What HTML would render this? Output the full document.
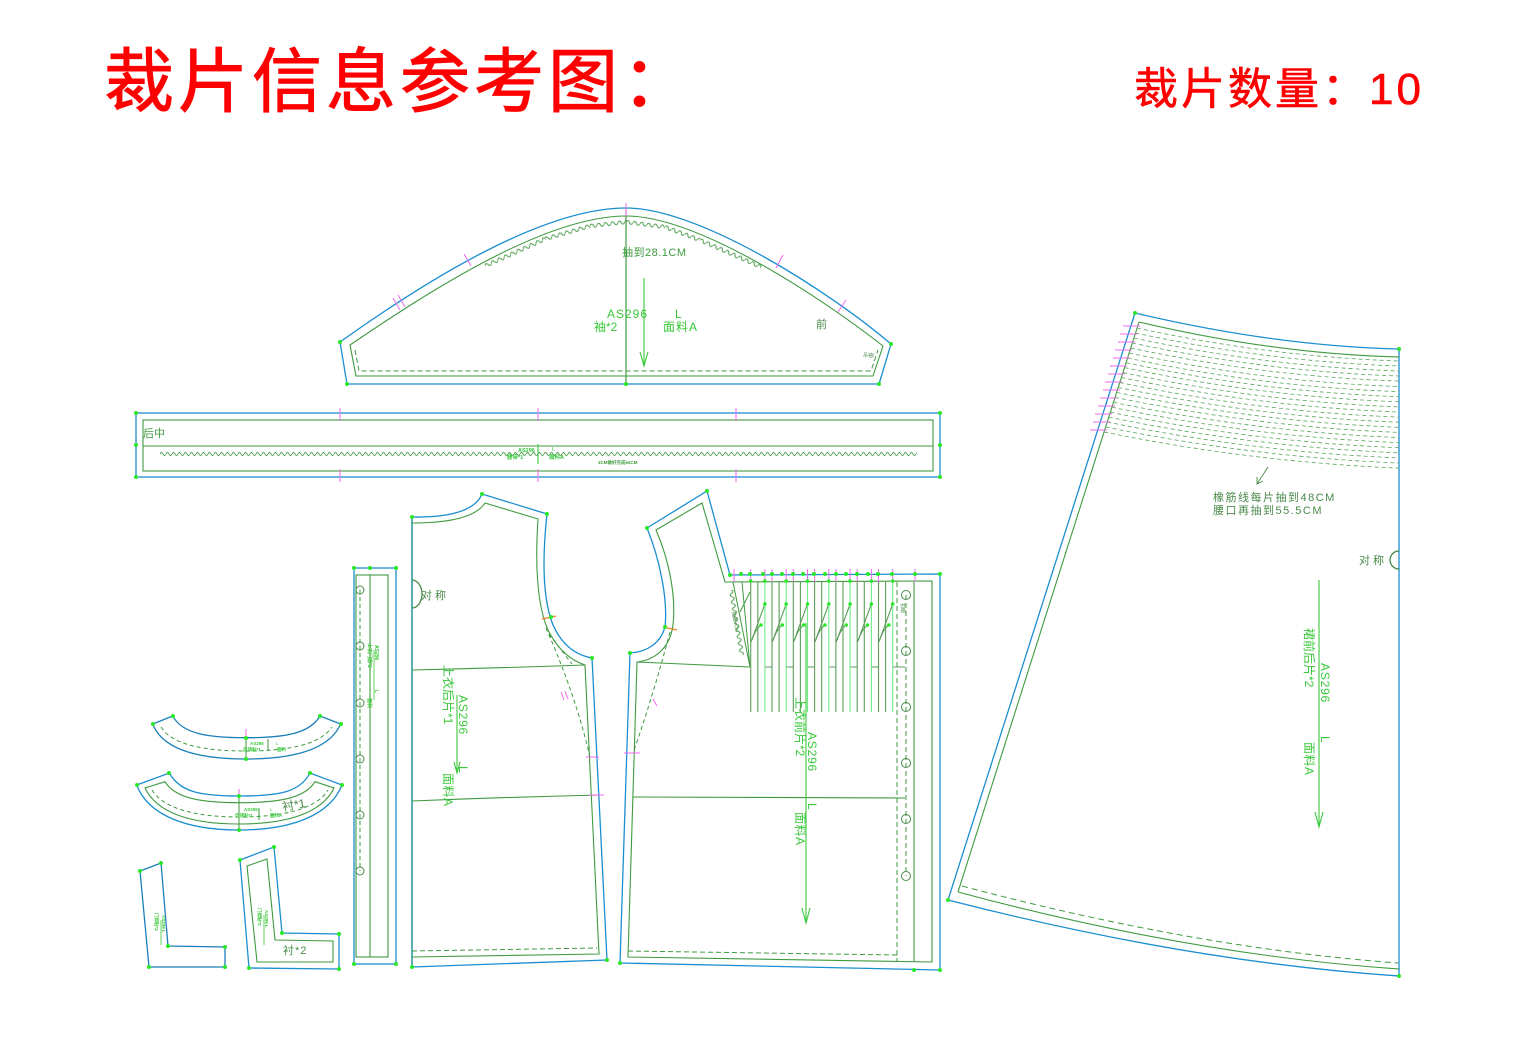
<!DOCTYPE html>
<html><head><meta charset="utf-8"><style>
html,body{margin:0;padding:0;background:#fff;}
svg{display:block;}
text{font-family:"Liberation Sans","Noto Sans CJK SC",sans-serif;}
</style></head><body>
<svg width="1526" height="1058" viewBox="0 0 1526 1058" xmlns="http://www.w3.org/2000/svg">
<defs>
<pattern id="wv" patternUnits="userSpaceOnUse" x="0" y="-3" width="6" height="6"><path d="M0,3 Q1.5,0 3,3 T6,3" fill="none" stroke="#4e9e4e" stroke-width="0.9"/></pattern>
<pattern id="wv2" patternUnits="userSpaceOnUse" x="0" y="-4" width="7" height="8"><path d="M0,4 Q1.75,0.5 3.5,4 T7,4" fill="none" stroke="#4e9e4e" stroke-width="1"/></pattern>
</defs>
<rect width="1526" height="1058" fill="#fff"/>

<!-- Titles -->
<text x="104" y="106" font-size="70" fill="#ff0000" letter-spacing="4" stroke="#ff0000" stroke-width="1">裁片信息参考图：</text>
<text x="1134" y="104" font-size="44" fill="#ff0000" letter-spacing="3" stroke="#ff0000" stroke-width="0.6">裁片数量：10</text>

<!-- ============ SLEEVE ============ -->
<g fill="none">
<path d="M347,384 L340,342 C420,285 540,208 626,208 C700,208 830,292 891,344 L879,384 Z" stroke="#1a8ed0" stroke-width="1.3"/>
<path d="M356,376 L350,345 C428,292 545,216 626,216 C698,216 822,298 883,346 L873,376 Z" stroke="#3f9a3f" stroke-width="1.1"/>
<path d="M355,350 L359,371 L871,371 L878,350" stroke="#3f9a3f" stroke-width="1" stroke-dasharray="5,3"/>
<path d="M626,208 L626,384" stroke="#3f9a3f" stroke-width="1.2"/>
<path d="M644,278 L644,365 M640,352 L644,366 L648,352" stroke="#3cc83c" stroke-width="1.1"/>
<path d="M393,298 L400,310 M398,295 L405,307 M464,254 L471,266 M626,203 L626,216 M783,255 L776,268 M846,300 L838,312" stroke="#f06af0" stroke-width="1"/>
</g>
<rect x="0" y="-4" width="66" height="8" fill="url(#wv2)" transform="translate(485,266) rotate(-24.2)"/>
<rect x="0" y="-4" width="47" height="8" fill="url(#wv2)" transform="translate(545,239) rotate(-16.1)"/>
<rect x="0" y="-4" width="36" height="8" fill="url(#wv2)" transform="translate(590,226) rotate(-6.3)"/>
<rect x="0" y="-4" width="39" height="8" fill="url(#wv2)" transform="translate(626,222) rotate(7.3)"/>
<rect x="0" y="-4" width="37" height="8" fill="url(#wv2)" transform="translate(665,227) rotate(20.4)"/>
<rect x="0" y="-4" width="67" height="8" fill="url(#wv2)" transform="translate(700,240) rotate(23.9)"/>
<text x="622" y="256" font-size="11" fill="#3f9a3f" letter-spacing="0.5">抽到28.1CM</text>
<text x="607" y="318" font-size="12" fill="#38c838" letter-spacing="1">AS296</text>
<text x="675" y="318" font-size="12" fill="#38c838">L</text>
<text x="594" y="331" font-size="12" fill="#38c838">袖*2</text>
<text x="663" y="331" font-size="12" fill="#38c838" letter-spacing="1">面料A</text>
<text x="816" y="328" font-size="11" fill="#4a8a4a">前</text>
<text x="863" y="357" font-size="5" fill="#4a8a4a">吊袖/</text>
<g fill="#28e828"><circle cx="340" cy="342" r="2"/><circle cx="347" cy="384" r="2"/><circle cx="626" cy="384" r="2"/><circle cx="879" cy="384" r="2"/><circle cx="891" cy="344" r="2"/></g>

<!-- ============ BAND ============ -->
<g fill="none">
<rect x="136" y="413" width="804" height="64" stroke="#1a8ed0" stroke-width="1.3"/>
<rect x="143" y="420" width="790" height="51" stroke="#3f9a3f" stroke-width="1.1"/>
<path d="M143,446 L933,446" stroke="#3f9a3f" stroke-width="1.1"/>
<path d="M538,444 L538,464" stroke="#3cc83c" stroke-width="1.1"/>
<path d="M340,408 L340,421 M538,408 L538,421 M736,408 L736,421 M340,469 L340,482 M538,469 L538,482 M736,469 L736,482" stroke="#f06af0" stroke-width="1"/>
</g>
<rect x="0" y="-3" width="757" height="6" fill="url(#wv)" transform="translate(160,454)"/>
<text x="143" y="437" font-size="11" fill="#3f9a3f">后中</text>
<text x="518" y="452" font-size="5.5" fill="#38c838" font-weight="bold">AS296</text>
<text x="552" y="451" font-size="5.5" fill="#38c838">L</text>
<text x="507" y="459" font-size="5.5" fill="#38c838" font-weight="bold">腰带*1</text>
<text x="549" y="459" font-size="5.5" fill="#38c838" font-weight="bold">面料A</text>
<text x="598" y="464" font-size="4.5" fill="#3f9a3f" font-weight="bold">3CM做好完成64CM</text>
<g fill="#28e828"><circle cx="136" cy="413" r="2"/><circle cx="136" cy="445" r="2"/><circle cx="136" cy="477" r="2"/><circle cx="940" cy="413" r="2"/><circle cx="940" cy="445" r="2"/><circle cx="940" cy="477" r="2"/></g>

<!-- ============ SKIRT ============ -->
<g fill="none">
<path d="M1135,313 Q1275,346 1399,349 L1399,976 M1399,976 Q1190,962 948,900 L1135,313" stroke="#1a8ed0" stroke-width="1.3"/>
<path d="M1139,322 Q1275,354 1399,357 M958,892 Q1192,955 1399,969 M1139,322 L958,892" stroke="#3f9a3f" stroke-width="1.1"/>
<path d="M962,886 Q1195,948 1398,963" stroke="#3f9a3f" stroke-width="1" stroke-dasharray="6,4"/>
<g stroke="#5aa65a" stroke-width="0.8" stroke-dasharray="4,3">
<path d="M1137,328 Q1268,356.5 1399,361"/>
<path d="M1135.5,333 Q1267,361.5 1399,366"/>
<path d="M1134,338 Q1266,366.5 1399,371"/>
<path d="M1132.4,343 Q1266,371.5 1399,376"/>
<path d="M1130.8,348 Q1265,376.5 1399,381"/>
<path d="M1129.2,353 Q1264,382 1399,386.5"/>
<path d="M1127.7,358 Q1263,387 1399,391.6"/>
<path d="M1126.1,362.7 Q1262,391.7 1399,396.7"/>
<path d="M1124.5,367.6 Q1262,396.7 1399,401.8"/>
<path d="M1123,372.6 Q1261,401.7 1399,406.9"/>
<path d="M1121.4,377.5 Q1260,406.7 1399,412"/>
<path d="M1119.8,382.5 Q1259,411.8 1399,417.1"/>
<path d="M1118.2,387.4 Q1258,416.8 1399,422.2"/>
<path d="M1116.7,392.4 Q1258,421.8 1399,427.3"/>
<path d="M1115.1,397.3 Q1257,426.8 1399,432.4"/>
<path d="M1113.5,402.3 Q1256,431.9 1399,437.5"/>
<path d="M1111.9,407.2 Q1255,436.9 1399,442.6"/>
<path d="M1110.4,412.2 Q1254,441.9 1399,447.7"/>
<path d="M1108.8,417.1 Q1254,447 1399,452.8"/>
<path d="M1107.2,422 Q1253,452 1399,457.9"/>
<path d="M1105.7,427 Q1252,457 1399,463"/>
<path d="M1104.1,432 Q1251,462 1399,468.1"/>
</g>
<path d="M1123,326 L1140,326 M1120,334 L1137,334 M1118,342 L1135,342 M1115,350 L1132,350 M1113,358 L1130,358 M1110,366 L1127,366 M1108,374 L1125,374 M1105,382 L1122,382 M1103,390 L1120,390 M1100,398 L1117,398 M1098,406 L1115,406 M1095,414 L1112,414 M1093,422 L1110,422 M1090,430 L1107,430" stroke="#f06af0" stroke-width="0.9"/>
<path d="M1268,467 L1257,484 M1257,477 L1257,484 L1263,481" stroke="#4a8a4a" stroke-width="0.9"/>
<path d="M1399,551 A9,9 0 0,0 1399,569" stroke="#4a8a4a" stroke-width="1.3"/>
<path d="M1319,580 L1319,826 M1315,812 L1319,827 L1323,812" stroke="#3cc83c" stroke-width="1.1"/>
</g>
<text x="1213" y="501" font-size="11" fill="#4a8a4a" letter-spacing="1.5">橡筋线每片抽到48CM</text>
<text x="1213" y="514" font-size="11" fill="#4a8a4a" letter-spacing="1.5">腰口再抽到55.5CM</text>
<text x="1359" y="564" font-size="11" fill="#4a8a4a" letter-spacing="3">对称</text>
<g transform="translate(1319,0) rotate(90)" font-size="12" fill="#38c838">
<text x="663" y="-2" letter-spacing="0.8">AS296</text>
<text x="736" y="-2">L</text>
<text x="628" y="14">裙前后片*2</text>
<text x="742" y="14" letter-spacing="0.5">面料A</text>
</g>
<g fill="#28e828"><circle cx="1135" cy="313" r="2"/><circle cx="1399" cy="349" r="2"/><circle cx="1399" cy="976" r="2"/><circle cx="948" cy="900" r="2"/></g>

<!-- ============ BACK BODICE ============ -->
<g fill="none">
<path d="M412,517 Q472,518 482,494 L547,514 C542,560 543,600 553,625 C562,645 575,655 592,658 L607,960 L412,967" stroke="#1a8ed0" stroke-width="1.3"/>
<path d="M412,517 L412,967" stroke="#2f9aa0" stroke-width="1.6"/>
<path d="M412,523 Q472,523 485,503 L538,519 C535,565 537,605 548,630 C557,648 570,660 585,665 L599,954 L412,957" stroke="#3f9a3f" stroke-width="1.1"/>
<path d="M412,670 Q500,668 585,665 M412,801 Q510,797 602,795" stroke="#3f9a3f" stroke-width="1.1"/>
<path d="M412,951 L597,948" stroke="#3f9a3f" stroke-width="1" stroke-dasharray="5,3"/>
<path d="M546,628 C560,660 578,705 590,757 M549,634 L572,664" stroke="#3f9a3f" stroke-width="1" stroke-dasharray="4,3"/>
<path d="M561,692 L564,700 M565,691 L568,699 M586,757 L599,757 M589,795 L604,795" stroke="#f06af0" stroke-width="1"/>
<path d="M542,619 L556,616" stroke="#f08020" stroke-width="1.2"/>
<path d="M412,580 A10,14 0 0,1 412,608" stroke="#4a8a4a" stroke-width="1.3"/>
<path d="M457,695 L457,772 M454,762 L457,773 L460,762" stroke="#3cc83c" stroke-width="1.1"/>
</g>
<text x="421" y="599" font-size="11" fill="#4a8a4a" letter-spacing="3">对称</text>
<g transform="translate(457,0) rotate(90)" font-size="12" fill="#38c838">
<text x="695" y="-2" letter-spacing="0.8">AS296</text>
<text x="766" y="-2">L</text>
<text x="665" y="13">上衣后片*1</text>
<text x="773" y="13" letter-spacing="0.5">面料A</text>
</g>
<g fill="#28e828"><circle cx="412" cy="517" r="2"/><circle cx="482" cy="494" r="2"/><circle cx="547" cy="514" r="2"/><circle cx="592" cy="658" r="2"/><circle cx="607" cy="960" r="2"/><circle cx="412" cy="967" r="2"/><circle cx="551" cy="617" r="2"/></g>

<!-- ============ FRONT BODICE ============ -->
<g fill="none">
<path d="M630,653 C645,652 660,645 665,627 C668,600 660,560 647,528 L707,491 L730,575 L940,574 L940,970 L620,963 Z" stroke="#1a8ed0" stroke-width="1.3"/>
<path d="M637,662 C655,660 670,648 673,625 C676,598 670,562 656,530 L702,503 L725,582 L932,581 L932,962 L628,957 Z" stroke="#3f9a3f" stroke-width="1.1"/>
<path d="M637,662 L750,667 M633,797 L905,798 M914,582 L914,962" stroke="#3f9a3f" stroke-width="1.1"/>
<path d="M742,582 L750,667 M733,582 L750,667 M750,592 L740,612" stroke="#3f9a3f" stroke-width="1"/>
<path d="M897,582 L897,962 M628,951 L897,955 M906,595 L906,876" stroke="#3f9a3f" stroke-width="1" stroke-dasharray="5,3"/>
<path d="M670,632 C660,670 645,720 633,753" stroke="#3f9a3f" stroke-width="1" stroke-dasharray="4,3"/>
<path d="M653,699 L657,706 M624,753 L640,753" stroke="#f06af0" stroke-width="1"/>
<path d="M663,627 L677,630" stroke="#f08020" stroke-width="1.2"/>
<g stroke="#5a9e5a" stroke-width="1.1">
<path d="M750.7,582 V712 M757.8,582 V712 M772,582 V712 M779.1,582 V712 M793.3,582 V712 M800.4,582 V712 M814.6,582 V712 M821.7,582 V712 M835.9,582 V712 M843,582 V712 M857.2,582 V712 M864.3,582 V712 M878.5,582 V712 M885.6,582 V712"/>
<path d="M764.9,667 H772 M786.2,667 H793.3 M807.5,667 H814.6 M828.8,667 H835.9 M850.1,667 H857.2 M871.4,667 H878.5 M892.7,667 H905"/>
<path d="M764.9,604 L751,642 M761,625 Q755,630 752,640 M786.2,604 L772.3,642 M782.3,625 Q776.3,630 773.3,640 M807.5,604 L793.6,642 M803.6,625 Q797.6,630 794.6,640 M828.8,604 L814.9,642 M824.9,625 Q818.9,630 815.9,640 M850.1,604 L836.2,642 M846.2,625 Q840.2,630 837.2,640 M871.4,604 L857.5,642 M867.5,625 Q861.5,630 858.5,640 M892.7,604 L878.8,642 M888.8,625 Q882.8,630 879.8,640"/>
</g>
<path d="M764.9,582 V712 M786.2,582 V712 M807.5,582 V712 M828.8,582 V712 M850.1,582 V712 M871.4,582 V712 M892.7,582 V712" stroke="#72e88a" stroke-width="1.1"/>
<path d="M734,569 V582 M750.7,569 V582 M764.9,569 V582 M772,569 V582 M786.2,569 V582 M793.3,569 V582 M807.5,569 V582 M814.6,569 V582 M828.8,569 V582 M835.9,569 V582 M850.1,569 V582 M857.2,569 V582 M871.4,569 V582 M878.5,569 V582 M892.7,569 V582 M915,569 V582" stroke="#f06af0" stroke-width="1"/>
<g stroke="#4a8a4a" stroke-width="1"><circle cx="906" cy="595" r="4.5"/><circle cx="906" cy="651" r="4.5"/><circle cx="906" cy="707" r="4.5"/><circle cx="906" cy="763" r="4.5"/><circle cx="906" cy="819" r="4.5"/><circle cx="906" cy="876" r="4.5"/></g>
<path d="M806,623 L806,922 M802,908 L806,923 L810,908" stroke="#3cc83c" stroke-width="1.1"/>
</g>
<rect x="0" y="-4" width="66" height="8" fill="url(#wv2)" transform="translate(731,590) rotate(80.4)"/>
<text transform="translate(732,612) rotate(80)" font-size="5" fill="#4a8a4a">抽皱4CM</text>
<text transform="translate(901,603) rotate(90)" font-size="5" fill="#4a8a4a">扣眼</text>
<g transform="translate(806,0) rotate(90)" font-size="12" fill="#38c838">
<text x="732" y="-2" letter-spacing="0.8">AS296</text>
<text x="803" y="-2">L</text>
<text x="697" y="10">上衣前片*2</text>
<text x="812" y="10" letter-spacing="0.5">面料A</text>
</g>
<g fill="#28e828"><circle cx="647" cy="528" r="2"/><circle cx="707" cy="491" r="2"/><circle cx="730" cy="575" r="2"/><circle cx="741" cy="574" r="2"/><circle cx="750" cy="574" r="2"/><circle cx="763" cy="574" r="2"/><circle cx="772" cy="574" r="2"/><circle cx="782" cy="574" r="2"/><circle cx="793" cy="574" r="2"/><circle cx="803" cy="574" r="2"/><circle cx="814" cy="574" r="2"/><circle cx="825" cy="574" r="2"/><circle cx="836" cy="574" r="2"/><circle cx="846" cy="574" r="2"/><circle cx="857" cy="574" r="2"/><circle cx="868" cy="574" r="2"/><circle cx="878" cy="574" r="2"/><circle cx="892" cy="574" r="2"/><circle cx="915" cy="574" r="2"/><circle cx="940" cy="574" r="2"/><circle cx="940" cy="970" r="2"/><circle cx="914" cy="970" r="2"/><circle cx="620" cy="963" r="2"/><circle cx="630" cy="653" r="2"/><circle cx="665" cy="627" r="2"/>
<circle cx="750.7" cy="581" r="1.8"/><circle cx="764.9" cy="581" r="1.8"/><circle cx="786.2" cy="581" r="1.8"/><circle cx="807.5" cy="581" r="1.8"/><circle cx="828.8" cy="581" r="1.8"/><circle cx="850.1" cy="581" r="1.8"/><circle cx="871.4" cy="581" r="1.8"/><circle cx="892.7" cy="581" r="1.8"/>
<circle cx="764.9" cy="604" r="1.8"/><circle cx="786.2" cy="604" r="1.8"/><circle cx="807.5" cy="604" r="1.8"/><circle cx="828.8" cy="604" r="1.8"/><circle cx="850.1" cy="604" r="1.8"/><circle cx="871.4" cy="604" r="1.8"/><circle cx="892.7" cy="604" r="1.8"/>
<circle cx="761" cy="625" r="1.8"/><circle cx="782.3" cy="625" r="1.8"/><circle cx="803.6" cy="625" r="1.8"/><circle cx="824.9" cy="625" r="1.8"/><circle cx="846.2" cy="625" r="1.8"/><circle cx="867.5" cy="625" r="1.8"/><circle cx="888.8" cy="625" r="1.8"/></g>

<!-- ============ PLACKET STRIP ============ -->
<g fill="none">
<rect x="354" y="568" width="42" height="396" stroke="#1a8ed0" stroke-width="1.3"/>
<rect x="356" y="575" width="32" height="382" stroke="#3f9a3f" stroke-width="1.1"/>
<path d="M370,575 L370,957" stroke="#3f9a3f" stroke-width="1.1"/>
<path d="M360,590 L360,871" stroke="#3f9a3f" stroke-width="1" stroke-dasharray="4,3"/>
<g stroke="#4a8a4a" stroke-width="1"><circle cx="360" cy="590" r="4"/><circle cx="360" cy="646" r="4"/><circle cx="360" cy="703" r="4"/><circle cx="360" cy="759" r="4"/><circle cx="360" cy="815" r="4"/><circle cx="360" cy="871" r="4"/></g>
<path d="M374,650 L374,700" stroke="#3cc83c" stroke-width="0.8"/>
</g>
<g transform="translate(374,0) rotate(90)" font-size="5" fill="#38c838" font-weight="bold">
<text x="645" y="-1">AS296</text>
<text x="690" y="-1">L</text>
<text x="643" y="6">上衣门襟*2</text>
<text x="698" y="6">面料</text>
</g>
<g fill="#28e828"><circle cx="354" cy="568" r="2"/><circle cx="370" cy="568" r="2"/><circle cx="396" cy="568" r="2"/><circle cx="354" cy="964" r="2"/><circle cx="396" cy="964" r="2"/></g>

<!-- ============ COLLAR 1 ============ -->
<g fill="none">
<path d="M152.7,724 C162,748 195,759 246,759 C297,759 330,748 340.7,724 L320,716 C310,733 287,737.7 246,737.7 C205,737.7 182,733 172.7,716 Z" stroke="#1a7fb8" stroke-width="1.3"/>
<path d="M161,727 C172,745 205,751 246,751 C287,751 320,745 332,727" stroke="#3f9a3f" stroke-width="1" stroke-dasharray="4,3"/>
<path d="M246,737 L246,759 M268,739 L268,751" stroke="#3f9a3f" stroke-width="1"/>
<path d="M246,729 L246,738" stroke="#f06af0" stroke-width="1"/>
</g>
<text x="250" y="745" font-size="4.5" fill="#38c838" font-weight="bold">AS296</text>
<text x="243" y="751" font-size="4.5" fill="#38c838" font-weight="bold">后领贴*1</text>
<text x="276" y="745" font-size="4.5" fill="#38c838">L</text>
<text x="277" y="751" font-size="4.5" fill="#38c838" font-weight="bold">面料</text>
<g fill="#28e828"><circle cx="153" cy="724" r="2"/><circle cx="173" cy="716" r="2"/><circle cx="320" cy="716" r="2"/><circle cx="341" cy="724" r="2"/><circle cx="246" cy="738" r="2"/><circle cx="246" cy="759" r="2"/></g>

<!-- ============ COLLAR 2 ============ -->
<g fill="none">
<path d="M136.7,785 L169.3,773 C180,792 200,796 239,796 C280,796 300,792 310,773 L342,785 C330,815 292,830 239,830 C186,830 148,815 136.7,785 Z" stroke="#1a8ed0" stroke-width="1.3"/>
<path d="M145,788 L165,781.7 C175,798 200,802.7 239,802.7 C280,802.7 305,798 315,781.7 L334,788 C322,813 287,824 239,824 C191,824 157,813 145,788 Z" stroke="#3f9a3f" stroke-width="1.1"/>
<path d="M152,790 C164,810 200,817 239,817 C280,817 316,810 328,790" stroke="#3f9a3f" stroke-width="1" stroke-dasharray="4,3"/>
<path d="M239,796 L239,830 M259,808 L259,820" stroke="#3f9a3f" stroke-width="1"/>
<path d="M239,789 L239,797" stroke="#f06af0" stroke-width="1"/>
</g>
<text transform="translate(283,811) rotate(-10)" font-size="12" fill="#4a8a4a">衬*1</text>
<text x="244" y="811" font-size="4.5" fill="#38c838" font-weight="bold">AS296</text>
<text x="235" y="817" font-size="4.5" fill="#38c838" font-weight="bold">后领贴*1</text>
<text x="270" y="811" font-size="4.5" fill="#38c838">L</text>
<text x="270" y="817" font-size="4.5" fill="#38c838" font-weight="bold">面料A</text>
<g fill="#28e828"><circle cx="137" cy="785" r="2"/><circle cx="169" cy="773" r="2"/><circle cx="310" cy="773" r="2"/><circle cx="342" cy="785" r="2"/><circle cx="239" cy="796" r="2"/><circle cx="239" cy="830" r="2"/></g>

<!-- ============ L PIECE 1 ============ -->
<path d="M140,871 L161,863 L168,946 L225,947 L225,967 L149,967 Z" fill="none" stroke="#1a7fb8" stroke-width="1.3"/>
<path d="M161,920 L161,945" stroke="#3cc83c" stroke-width="0.8"/>
<g transform="translate(161,0) rotate(90)" font-size="4.5" fill="#38c838" font-weight="bold">
<text x="915" y="-1">AS296 L</text>
<text x="913" y="6">门襟贴*2</text>
</g>
<g fill="#28e828"><circle cx="140" cy="871" r="2"/><circle cx="161" cy="863" r="2"/><circle cx="168" cy="946" r="2"/><circle cx="225" cy="947" r="2"/><circle cx="225" cy="967" r="2"/><circle cx="149" cy="967" r="2"/></g>

<!-- ============ L PIECE 2 ============ -->
<path d="M240,860 L274,847 L282,933 L339,934 L339,969 L249,968 Z" fill="none" stroke="#1a8ed0" stroke-width="1.3"/>
<path d="M247,866 L267,859 L275,940 L333,941 L333,962 L257,962 Z" fill="none" stroke="#3f9a3f" stroke-width="1.1"/>
<path d="M264,915 L264,945" stroke="#3cc83c" stroke-width="0.8"/>
<g transform="translate(264,0) rotate(90)" font-size="4.5" fill="#38c838" font-weight="bold">
<text x="910" y="-1">AS296 L</text>
<text x="908" y="6">门襟贴*2</text>
</g>
<text x="283" y="954" font-size="11" fill="#4a8a4a" letter-spacing="1">衬*2</text>
<g fill="#28e828"><circle cx="240" cy="860" r="2"/><circle cx="274" cy="847" r="2"/><circle cx="282" cy="933" r="2"/><circle cx="339" cy="934" r="2"/><circle cx="339" cy="969" r="2"/><circle cx="249" cy="968" r="2"/></g>
</svg>
</body></html>
